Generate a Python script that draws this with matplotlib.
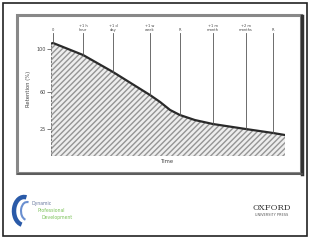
import matplotlib
matplotlib.use("Agg")
import matplotlib.pyplot as plt
from matplotlib.patches import Rectangle, Arc
import numpy as np

# Data
time = [0, 0.9, 13.7, 26.5, 42.3, 46.6, 50.9, 55.1, 61.5, 69.2, 83.3, 94.9, 100]
retention = [105, 105.6, 94.4, 78.5, 57, 50.5, 43, 38.3, 33.6, 29.9, 25.2, 21.5, 19.6]
event_times = [0.9, 13.7, 26.5, 42.3, 55.1, 69.2, 83.3, 94.9]
event_labels = ["0", "+1 h\nhour", "+1 d\nday", "+1 w\nweek", "R", "+1 m\nmonth", "+2 m\nmonths", "R"]
ytick_vals = [25, 60, 100]
ytick_labels = ["25", "60", "100"]

W, H = 310, 240
fig = plt.figure(figsize=(W / 100, H / 100), dpi=100)
fig.patch.set_facecolor("white")

def px(x0, y0, x1, y1):
    return [x0 / W, 1 - y1 / H, (x1 - x0) / W, (y1 - y0) / H]

# frames
bg = fig.add_axes([0, 0, 1, 1])
bg.set_xlim(0, W)
bg.set_ylim(H, 0)
bg.axis("off")
bg.add_patch(Rectangle((3, 3), 304, 233, fill=False, ec="#222222", lw=1.2))
bg.add_patch(Rectangle((17, 15), 284, 158, fill=False, ec="#888888", lw=2.2))
bg.plot([302, 302], [16, 174], color="#333333", lw=2.5)
bg.plot([18, 302], [174, 174], color="#555555", lw=1.2)

# logos as text
bg.add_patch(Arc((24, 211), 20, 28, theta1=100, theta2=280, color="#2a5aa8", lw=3.2))
bg.add_patch(Arc((27, 211), 12, 18, theta1=100, theta2=280, color="#6a8fd0", lw=1.5))
bg.text(31, 204, "Dynamic", fontsize=3.3, color="#6a7aa0", va="center")
bg.text(38, 211, "Professional", fontsize=3.3, color="#7cc35a", va="center")
bg.text(42, 218, "Development", fontsize=3.3, color="#7cc35a", va="center")
bg.text(272, 208, "OXFORD", fontsize=6, color="#333333", family="DejaVu Serif", ha="center", va="center")
bg.text(272, 215, "UNIVERSITY PRESS", fontsize=2.5, color="#555555", ha="center", va="center")

# chart axes: pixel x 51..285, y bottom 156 -> data 0, 1.07 px per unit
top_px = 22
ax = fig.add_axes(px(51, top_px, 285, 156))
ax.set_xlim(0, 100)
ax.set_ylim(0, (156 - top_px) / 1.07)
for s in ax.spines.values():
    s.set_visible(False)

ax.fill_between(time, retention, 0, facecolor="#eeeeee", hatch="//////", edgecolor="#959595", lw=0)
ax.plot(time, retention, color="#2a2a2a", lw=1.6, solid_capstyle="round", solid_joinstyle="round")
ax.plot([0, 0], [0, retention[0]], color="#777777", lw=0.8, ls=(0, (2, 1.5)))
ax.plot([0, 100], [0, 0], color="#777777", lw=0.8, ls=(0, (2, 1.5)))
ax.plot([100, 100], [0, 115], color="#777777", lw=0.6, ls=(0, (2, 1.5)))

for t, lab in zip(event_times, event_labels):
    yc = np.interp(t, time, retention)
    ax.plot([t, t], [yc, 115], color="#555555", lw=0.6)
    ax.text(t, 116, lab, fontsize=2.6, ha="center", va="bottom", color="#444444", linespacing=1.0)

ax.set_xticks([])
ax.set_yticks(ytick_vals)
ax.set_yticklabels(ytick_labels, fontsize=3.5, color="#444444")
ax.tick_params(axis="y", length=3, width=0.6, pad=1, color="#666666")
ax.set_ylabel("Retention (%)", fontsize=3.8, color="#444444", labelpad=4)
ax.set_xlabel("Time", fontsize=3.8, color="#444444", labelpad=2)
ax.patch.set_alpha(0)

fig.savefig("out.png", dpi=100)
